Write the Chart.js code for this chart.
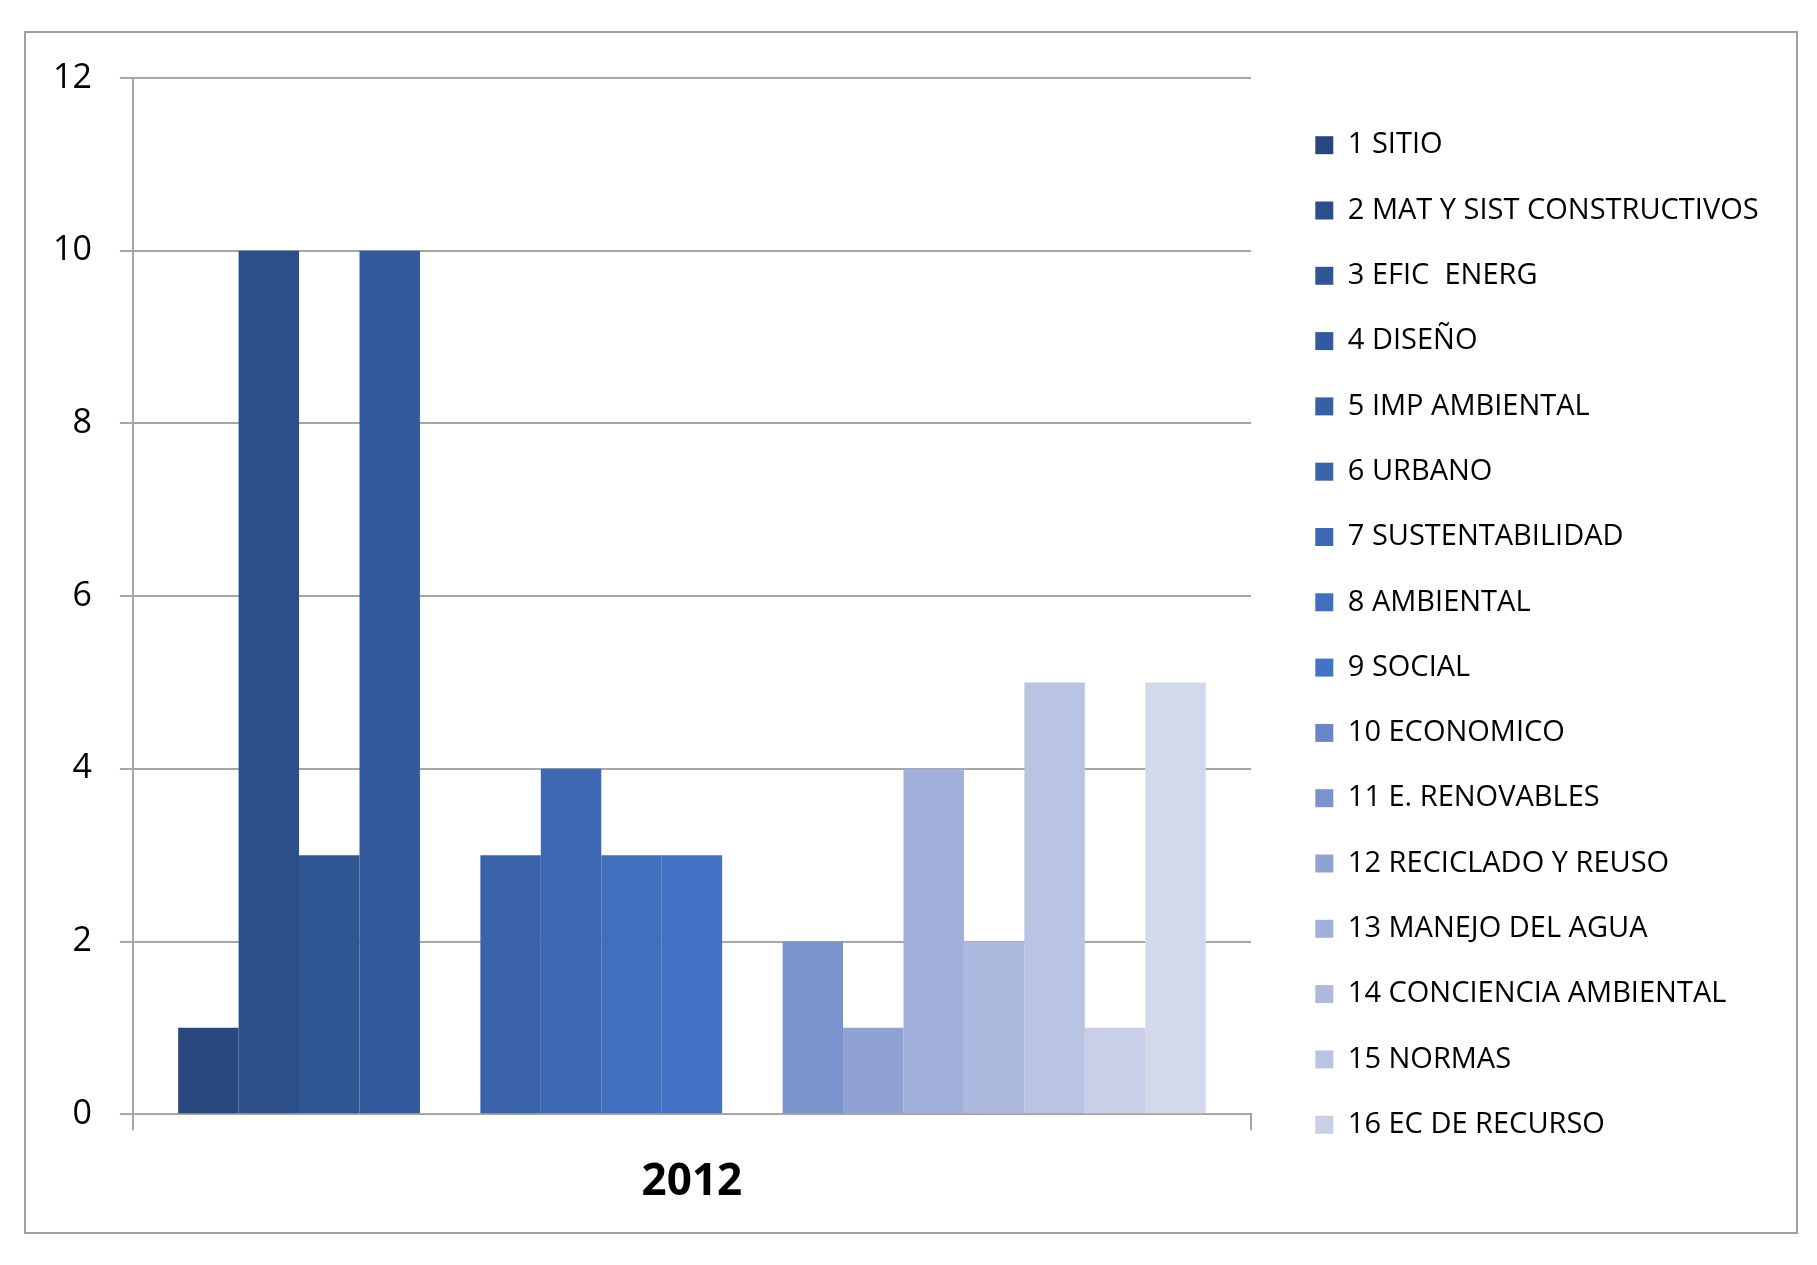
<!DOCTYPE html>
<html>
<head>
<meta charset="utf-8">
<script src="https://cdn.jsdelivr.net/npm/chart.js@4/dist/chart.umd.min.js"></script>
<style>
  html, body { margin: 0; padding: 0; background: #ffffff; }
  #c { display: block; }
</style>
</head>
<body>
<canvas id="c" width="1817" height="1265"></canvas>
<script>
const categories = ['2012'];
const seriesNames = [
  '1 SITIO',
  '2 MAT Y SIST CONSTRUCTIVOS',
  '3 EFIC  ENERG',
  '4 DISEÑO',
  '5 IMP AMBIENTAL',
  '6 URBANO',
  '7 SUSTENTABILIDAD',
  '8 AMBIENTAL',
  '9 SOCIAL',
  '10 ECONOMICO',
  '11 E. RENOVABLES',
  '12 RECICLADO Y REUSO',
  '13 MANEJO DEL AGUA',
  '14 CONCIENCIA AMBIENTAL',
  '15 NORMAS',
  '16 EC DE RECURSO',
  ''
];
const seriesValues = [1, 10, 3, 10, 0, 3, 4, 3, 3, 0, 2, 1, 4, 2, 5, 1, 5];
const seriesColors = [
  '#29477d', '#2c4f89', '#2f5592', '#335a9d', '#375fa4', '#3a63aa',
  '#3d69b4', '#416ebd', '#4472c4', '#6a86c9', '#7b93cd', '#8fa2d3',
  '#a0b0da', '#adb9de', '#b9c4e2', '#c8cfe7', '#d3d8eb'
];
const yMin = 0, yMax = 12, yStep = 2;

const gridGray = '#a6a6a6';
const legendBoxWidth = 518;

const frame = {
  id: 'frame',
  beforeLayout(chart) {
    const lg = chart.legend;
    if (lg && !lg.__sized) {
      const origFit = lg.fit;
      lg.fit = function () {
        origFit.call(this);
        this.width = legendBoxWidth;
      };
      lg.__sized = true;
    }
  },
  beforeDraw(chart) {
    const ctx = chart.ctx;
    ctx.save();
    ctx.fillStyle = '#ffffff';
    ctx.fillRect(0, 0, chart.width, chart.height);
    ctx.strokeStyle = '#a0a0a0';
    ctx.lineWidth = 2;
    ctx.strokeRect(25, 32, 1772, 1201);
    ctx.restore();
  }
};

Chart.defaults.color = '#000000';
Chart.defaults.font.family = "'Open Sans', sans-serif";

new Chart(document.getElementById('c'), {
  type: 'bar',
  data: {
    labels: categories,
    datasets: seriesNames.map((name, i) => ({
      label: name,
      data: [seriesValues[i]],
      backgroundColor: seriesColors[i],
      borderWidth: 0,
      barPercentage: 1,
      categoryPercentage: 0.919
    }))
  },
  options: {
    responsive: false,
    animation: false,
    layout: { padding: { left: 25, right: 20, top: 78, bottom: 30 } },
    plugins: {
      tooltip: { enabled: false },
      legend: {
        position: 'right',
        align: 'start',
        title: { display: true, text: ' ', font: { size: 12 }, padding: { top: 0, bottom: 2, left: 0, right: 0 } },
        labels: {
          boxWidth: 18,
          boxHeight: 18,
          padding: 36.3,
          color: '#000000',
          font: { size: 29, family: "'Open Sans', sans-serif" },
          filter: (item) => item.text !== ''
        }
      }
    },
    scales: {
      x: {
        type: 'category',
        offset: true,
        grid: { display: true, drawOnChartArea: false, drawTicks: true, tickLength: 16, color: gridGray, lineWidth: 2, offset: true },
        border: { display: true, color: gridGray, width: 2 },
        ticks: { padding: 26, color: '#000000', font: { size: 44, weight: 'bold', family: "'Open Sans', sans-serif" } }
      },
      y: {
        min: yMin,
        max: yMax,
        grid: { color: gridGray, lineWidth: 2, tickLength: 13, drawTicks: true },
        border: { display: true, color: gridGray, width: 2 },
        ticks: { stepSize: yStep, padding: 28, color: '#000000', font: { size: 34, family: "'Open Sans', sans-serif" } }
      },
      gap: {
        type: 'linear',
        position: 'right',
        display: true,
        grid: { display: false, drawTicks: false },
        border: { display: false },
        ticks: { display: false },
        afterFit(scale) { scale.width = 28; }
      }
    }
  },
  plugins: [frame]
});
</script>
</body>
</html>
